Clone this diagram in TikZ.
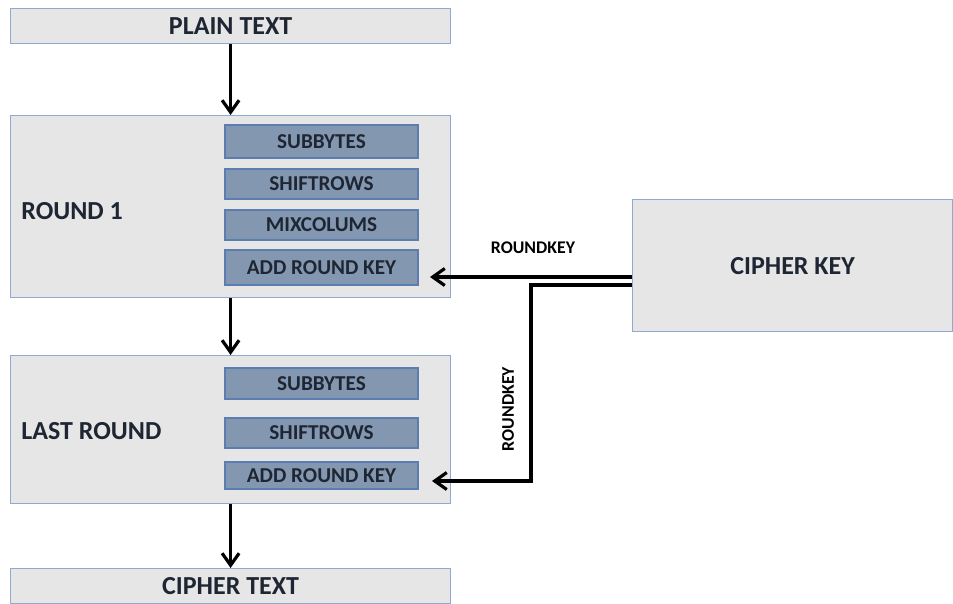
\documentclass[tikz,border=0pt]{standalone}
\usepackage{fontspec}
\setmainfont{Carlito}
\usetikzlibrary{arrows.meta}
\definecolor{boxfill}{HTML}{E7E6E6}
\definecolor{boxline}{HTML}{8FAAD0}
\definecolor{stepfill}{HTML}{8497B0}
\definecolor{stepline}{HTML}{5B7DB0}
\definecolor{ink}{HTML}{1E2633}
\tikzset{
  bigbox/.style={draw=boxline,fill=boxfill,line width=0.6pt,inner sep=0pt,
    minimum width=220pt,anchor=north west},
  stepbox/.style={draw=stepline,fill=stepfill,line width=0.6pt,inner sep=0pt,
    minimum width=96.5pt,text=ink,font=\bfseries\fontsize{10.6}{12}\selectfont},
  bigtext/.style={text=ink,font=\bfseries\fontsize{13}{15}\selectfont},
  keytext/.style={text=black,font=\bfseries\fontsize{8.9}{10}\selectfont},
  flow/.style={line width=1.6pt,-{Straight Barb[length=6pt,width=8.5pt,line width=1.6pt]}}
}
\begin{document}
\begin{tikzpicture}[x=0.5pt,y=-0.5pt]
  \useasboundingbox (0,0) rectangle (953,604);

  %outer boxes
  \node[bigbox,minimum height=17.5pt,bigtext] (plain) at (10,8) {PLAIN TEXT};
  \node[bigbox,minimum height=91pt] (round1) at (10,115) {};
  \node[bigbox,minimum height=74pt] (last) at (10,355) {};
  \node[bigbox,minimum height=17.5pt,bigtext] (ctext) at (10,568) {CIPHER TEXT};
  \node[bigbox,minimum width=160pt,minimum height=66pt,bigtext] (ckey) at (632,199) {CIPHER KEY};

  \node[bigtext,anchor=west,inner sep=0pt] (r1lbl) at (21,211) {ROUND 1};
  \node[bigtext,anchor=west,inner sep=0pt] (lrlbl) at (21,431) {LAST ROUND};

  %steps of round 1
  \foreach \nm/\y/\h/\txt in {sbA/141.5/16.5/SUBBYTES, srA/184/15/SHIFTROWS,
      mcA/225/15/MIXCOLUMS, akA/267.5/17.5/ADD ROUND KEY} {
    \node[stepbox,minimum height=\h pt] (\nm) at (321.5,\y) {\txt};
  }
  %steps of the last round
  \foreach \nm/\y/\h/\txt in {sbB/383.5/15.5/SUBBYTES, srB/433/15/SHIFTROWS,
      akB/475.5/13.5/ADD ROUND KEY} {
    \node[stepbox,minimum height=\h pt] (\nm) at (321.5,\y) {\txt};
  }

  %main flow
  \draw[flow] (plain.south) -- (round1.north);
  \draw[flow] (round1.south) -- (last.north);
  \draw[flow] (last.south) -- (ctext.north);

  %round keys
  \coordinate (tapA) at (632,277);
  \coordinate (tapB) at (632,285);
  \coordinate (inA) at (430,277);
  \coordinate (inB) at (432,481);
  \coordinate (turn) at (531,481);
  \draw[flow] (tapA) -- (inA);
  \draw[flow] (tapB) -| (turn) -- (inB);
  \node[keytext] (rkA) at (533,248) {ROUNDKEY};
  \node[keytext,rotate=90] (rkB) at (508,409) {ROUNDKEY};
\end{tikzpicture}
\end{document}
